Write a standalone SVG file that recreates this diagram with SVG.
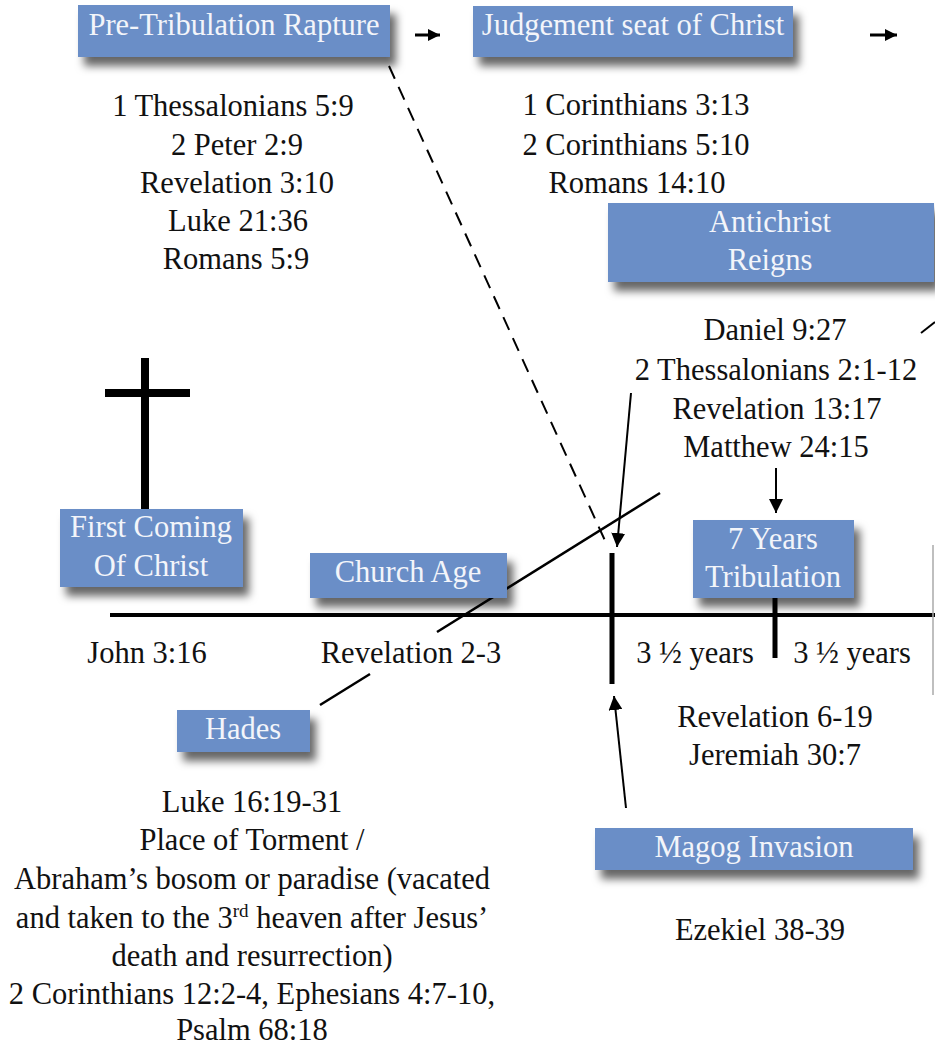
<svg xmlns="http://www.w3.org/2000/svg" width="935" height="1045" viewBox="0 0 935 1045">
<style>
.box{fill:#6b8ec7;filter:url(#sh)}
.bt{font-family:"Liberation Serif","Times New Roman",serif;font-size:30.5px;fill:#f3f5fa;text-anchor:middle}
.t{font-family:"Liberation Serif","Times New Roman",serif;font-size:30.5px;fill:#111;text-anchor:middle}
.ln{stroke:#000;fill:none}
</style>
<defs>
<filter id="sh" x="-10%" y="-20%" width="130%" height="170%">
<feDropShadow dx="6" dy="9" stdDeviation="4.5" flood-color="#000" flood-opacity="0.6"/>
</filter>
<marker id="ah" viewBox="0 0 10 10" refX="10" refY="5" markerWidth="14" markerHeight="14" markerUnits="userSpaceOnUse" orient="auto">
<path d="M0,0 L10,5 L0,10 z" fill="#000"/>
</marker>
<marker id="ahs" viewBox="0 0 10 10" refX="10" refY="5" markerWidth="13" markerHeight="12" markerUnits="userSpaceOnUse" orient="auto">
<path d="M0,0 L10,5 L0,10 z" fill="#000"/>
</marker>
</defs>
<rect width="935" height="1045" fill="#fff"/>

<g id="timeline">
<line class="ln" x1="110" y1="615" x2="935" y2="615" stroke-width="4"/>
<line class="ln" x1="612" y1="553" x2="612" y2="684" stroke-width="5"/>
<line class="ln" x1="775" y1="598" x2="775" y2="658" stroke-width="5"/>
<line x1="933" y1="545" x2="933" y2="695" stroke="#aaa" stroke-width="1.5"/>
</g>

<g id="cross">
<line class="ln" x1="145" y1="358" x2="145" y2="510" stroke-width="8"/>
<line class="ln" x1="105" y1="393" x2="190" y2="393" stroke-width="8"/>
</g>

<g id="connectors">
<line class="ln" x1="389" y1="66" x2="607" y2="545" stroke-width="2" stroke-dasharray="14,9"/>
<line class="ln" x1="631" y1="393" x2="617" y2="547" stroke-width="2" marker-end="url(#ah)"/>
<line class="ln" x1="320" y1="705" x2="370" y2="674" stroke-width="2.5"/>
<line class="ln" x1="437" y1="632" x2="660" y2="493" stroke-width="2.5"/>
<line class="ln" x1="776" y1="468" x2="776" y2="513" stroke-width="2" marker-end="url(#ah)"/>
<line class="ln" x1="626" y1="808" x2="614" y2="696" stroke-width="2" marker-end="url(#ah)"/>
<line class="ln" x1="415" y1="35" x2="440" y2="35" stroke-width="3" marker-end="url(#ahs)"/>
<line class="ln" x1="870" y1="35" x2="897" y2="35" stroke-width="3" marker-end="url(#ahs)"/>
<line class="ln" x1="921" y1="333" x2="935" y2="322" stroke-width="2"/>
</g>

<g id="pretrib">
<rect class="box" x="78" y="5" width="312" height="52"/>
<text class="bt" x="234" y="35">Pre-Tribulation Rapture</text>
<text class="t" x="233" y="116">1 Thessalonians 5:9</text>
<text class="t" x="237" y="155">2 Peter 2:9</text>
<text class="t" x="237" y="193">Revelation 3:10</text>
<text class="t" x="238" y="231">Luke 21:36</text>
<text class="t" x="236" y="269">Romans 5:9</text>
</g>

<g id="judgement">
<rect class="box" x="473" y="6" width="320" height="51"/>
<text class="bt" x="633" y="35">Judgement seat of Christ</text>
<text class="t" x="636" y="115">1 Corinthians 3:13</text>
<text class="t" x="636" y="155">2 Corinthians 5:10</text>
<text class="t" x="637" y="193">Romans 14:10</text>
</g>

<g id="antichrist">
<rect class="box" x="608" y="203" width="326" height="79"/>
<text class="bt" x="770" y="232">Antichrist</text>
<text class="bt" x="770" y="270">Reigns</text>
<text class="t" x="775" y="340">Daniel 9:27</text>
<text class="t" x="776" y="380">2 Thessalonians 2:1-12</text>
<text class="t" x="777" y="419">Revelation 13:17</text>
<text class="t" x="776" y="457">Matthew 24:15</text>
</g>

<g id="firstcoming">
<rect class="box" x="60" y="509" width="183" height="78"/>
<text class="bt" x="151" y="537">First Coming</text>
<text class="bt" x="151" y="576">Of Christ</text>
<text class="t" x="147" y="663">John 3:16</text>
</g>

<g id="churchage">
<rect class="box" x="310" y="553" width="197" height="45"/>
<text class="bt" x="408" y="582">Church Age</text>
<text class="t" x="411" y="663">Revelation 2-3</text>
</g>

<g id="tribulation">
<rect class="box" x="693" y="520" width="161" height="78"/>
<text class="bt" x="773" y="549">7 Years</text>
<text class="bt" x="773" y="587">Tribulation</text>
<text class="t" x="695" y="663">3 ½ years</text>
<text class="t" x="852" y="663">3 ½ years</text>
<text class="t" x="775" y="727">Revelation 6-19</text>
<text class="t" x="775" y="765">Jeremiah 30:7</text>
</g>

<g id="hades">
<rect class="box" x="177" y="710" width="133" height="42"/>
<text class="bt" x="243" y="739">Hades</text>
<text class="t" x="252" y="812">Luke 16:19-31</text>
<text class="t" x="252" y="850">Place of Torment /</text>
<text class="t" x="252" y="889">Abraham’s bosom or paradise (vacated</text>
<text class="t" x="252" y="928">and taken to the 3<tspan font-size="19" dy="-11">rd</tspan><tspan dy="11"> heaven after Jesus’</tspan></text>
<text class="t" x="252" y="966">death and resurrection)</text>
<text class="t" x="252" y="1004">2 Corinthians 12:2-4, Ephesians 4:7-10,</text>
<text class="t" x="252" y="1040">Psalm 68:18</text>
</g>

<g id="magog">
<rect class="box" x="595" y="828" width="318" height="42"/>
<text class="bt" x="754" y="857">Magog Invasion</text>
<text class="t" x="760" y="940">Ezekiel 38-39</text>
</g>
</svg>
